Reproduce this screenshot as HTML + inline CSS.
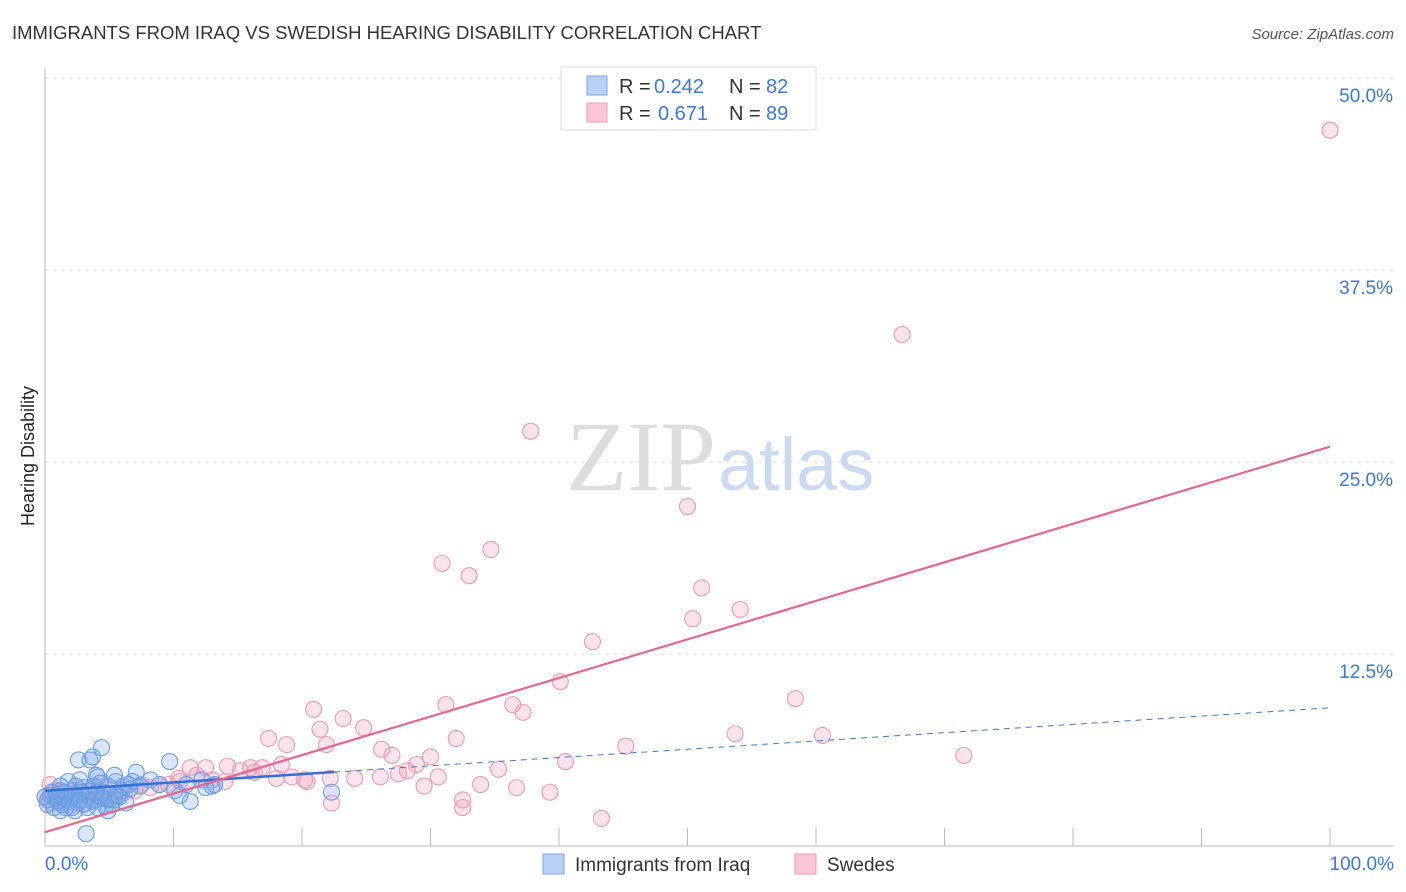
<!DOCTYPE html>
<html><head><meta charset="utf-8"><style>
html,body{margin:0;padding:0;background:#fff;width:1406px;height:892px;overflow:hidden;font-family:"Liberation Sans",sans-serif}
</style></head><body>
<svg id="chart" width="1406" height="892" xmlns="http://www.w3.org/2000/svg">
<text x="12" y="39" font-size="18.5" fill="#333">IMMIGRANTS FROM IRAQ VS SWEDISH HEARING DISABILITY CORRELATION CHART</text>
<text x="1394" y="39" font-size="15" fill="#555" font-style="italic" text-anchor="end">Source: ZipAtlas.com</text>
<text x="34" y="456" font-size="18" fill="#222" transform="rotate(-90 34 456)" text-anchor="middle">Hearing Disability</text>
<g id="grid"></g>
<g id="axes"></g>
<text x="716" y="490" font-size="100" fill="#ddd" text-anchor="end" font-family="Liberation Serif,serif">ZIP</text>
<text x="718" y="490" font-size="74" fill="#c9daf2">atlas</text>
<g id="pts"></g>
<g id="lines"></g>
<g>
<rect x="561" y="67" width="255" height="63" fill="#fff" stroke="#ddd"/>
<rect x="587" y="76" width="20" height="19" fill="#b9d1f4" stroke="#7aa6e6"/>
<rect x="587" y="103" width="20" height="19" fill="#fac6d6" stroke="#ee9cb6"/>
<g font-size="20" fill="#333">
<text x="619" y="93">R =</text><text x="654" y="93" fill="#3b78d8">0.242</text><text x="729" y="93">N =</text><text x="766" y="93" fill="#3b78d8">82</text></g>
<g font-size="20" fill="#333">
<text x="619" y="120">R =</text><text x="658" y="120" fill="#3b78d8">0.671</text><text x="729" y="120">N =</text><text x="766" y="120" fill="#3b78d8">89</text></g>
</g>
<g>
<rect x="543" y="854" width="21" height="20" fill="#b9d1f4" stroke="#7aa6e6"/>
<text x="575" y="871" font-size="19" fill="#333">Immigrants from Iraq</text>
<rect x="795" y="854" width="21" height="20" fill="#fac6d6" stroke="#ee9cb6"/>
<text x="827" y="871" font-size="19" fill="#333">Swedes</text>
</g>
</svg>
<script>
const yTicks=[12.5,25,37.5,50];
const yTickLabels=["12.5%","25.0%","37.5%","50.0%"];
const xTicks=[0,10,20,30,40,50,60,70,80,90,100];
const xEndLabels=["0.0%","100.0%"];
const pinkX=[100,66.7,37.8,50.0,34.7,30.9,33.0,51.1,54.1,50.4,42.6,40.1,58.4,31.2,36.4,20.9,37.2,23.2,24.8,21.4,17.4,32.0,18.8,21.9,53.7,60.5,45.2,26.2,27.0,71.5,30.0,40.5,28.9,35.3,28.2,27.5,30.6,26.1,24.1,22.2,20.2,19.2,18.0,20.4,15.2,14.2,16.0,12.5,11.3,11.8,10.4,9.6,8.9,8.2,7.5,6.2,5.1,3.9,2.7,1.6,0.8,0.4,0.2,1.2,2.1,3.3,4.3,5.4,7.0,33.9,36.7,39.3,32.5,32.5,22.3,43.3,29.5,13.0,14.0,16.9,18.4,10.5,16.3,0.5,1.9,3.1,0.0];
const pinkY=[46.6,33.3,27.0,22.1,19.3,18.4,17.6,16.8,15.4,14.8,13.3,10.7,9.6,9.2,9.2,8.9,8.7,8.3,7.7,7.6,7.0,7.0,6.6,6.6,7.3,7.2,6.5,6.3,5.9,5.9,5.8,5.5,5.3,5.0,4.9,4.7,4.5,4.5,4.4,4.4,4.3,4.5,4.4,4.2,4.9,5.2,5.1,5.1,5.1,4.6,4.4,4.0,4.0,3.8,4.0,3.5,3.8,3.8,3.6,3.5,3.6,4.0,3.0,3.0,3.1,3.3,3.3,3.3,3.6,4.0,3.8,3.5,3.0,2.5,2.8,1.8,3.9,4.3,4.2,5.1,5.3,4.2,4.8,2.8,2.6,2.8,3.2];
const blueX=[4.4,2.6,3.5,3.7,9.7,7.1,5.4,4.0,4.1,2.7,1.8,1.2,6.8,13.0,12.2,10.5,10.1,11.3,4.9,3.3,2.3,3.2,22.3,0.4,0.8,1.3,1.6,1.9,2.3,2.9,3.2,3.5,3.9,4.3,4.5,5.0,5.7,6.0,6.5,7.4,8.2,8.9,0.5,1.0,1.3,1.9,2.6,3.0,3.7,4.1,4.7,5.2,0.2,0,0.9,1.5,2.1,2.4,3.0,3.8,4.3,4.9,5.5,6.1,6.6,11.0,12.5,13.2,0.2,0.7,1.2,1.6,2.1,2.7,3.4,4.0,4.5,4.9,5.4,5.8,6.3,1.2];
const blueY=[6.4,5.6,5.6,5.8,5.5,4.8,4.6,4.6,4.5,4.3,4.2,3.9,4.2,3.9,4.3,3.3,3.6,2.9,2.3,2.5,2.3,0.8,3.5,3.3,3.1,3.2,3.0,3.1,3.3,3.5,3.2,3.0,3.0,3.2,3.5,3.0,3.3,3.6,4.0,3.9,4.3,4.0,3.5,2.9,2.7,2.9,2.8,2.7,2.9,2.5,2.6,2.7,3.0,3.2,3.3,3.5,3.6,3.9,3.8,3.9,4.1,3.9,4.2,3.9,3.7,4.0,3.8,4.0,2.7,2.5,2.3,2.5,2.5,3.0,3.6,3.5,3.1,3.1,3.0,3.2,2.8,3.6];
const pinkTrend=[0.9,26.0];
const blueTrend=[3.6,9.0];
const blueSolidEnd=22.5;
const NS="http://www.w3.org/2000/svg";
const X=v=>45+v*12.85, Y=v=>846-v*15.36;
function mk(tag,attrs,parent){const e=document.createElementNS(NS,tag);for(const k in attrs)e.setAttribute(k,attrs[k]);parent.appendChild(e);return e;}
const grid=document.getElementById('grid'),axes=document.getElementById('axes');
yTicks.forEach((t,i)=>{
 const l=mk('line',{x1:45,x2:1394,y1:Y(t),y2:Y(t),stroke:'#ddd','stroke-dasharray':'4,4'},grid);
 
 
 const tx=mk('text',{x:1393,y:Y(t)+24,'font-size':19,fill:'#3b78d8','text-anchor':'end'},axes);
 tx.textContent=yTickLabels[i];
 
 
});
const ya=mk('line',{x1:45,x2:45,y1:68,y2:846,stroke:'#bbb'},axes);


const xa=mk('line',{x1:45,x2:1394,y1:846,y2:846,stroke:'#bbb'},axes);


xTicks.forEach(t=>{
 const l=mk('line',{x1:X(t),x2:X(t),y1:828,y2:846,stroke:'#bbb'},axes);
 
 
});
[[0,'start',45],[100,'end',1394]].forEach((a,i)=>{
 const tx=mk('text',{x:a[2],y:870,'font-size':19,fill:'#3b78d8','text-anchor':a[1]},axes);
 tx.textContent=xEndLabels[i];
 
 
});
const pts=document.getElementById('pts');
pinkX.forEach((x,i)=>{
 const c=mk('circle',{cx:X(x),cy:Y(pinkY[i]),r:8,fill:'rgba(245,160,190,0.3)',stroke:'#eb9ab5','stroke-width':1.1},pts);
 
 
});
blueX.forEach((x,i)=>{
 const c=mk('circle',{cx:X(x),cy:Y(blueY[i]),r:8,fill:'rgba(120,165,235,0.28)',stroke:'#6a9ee2','stroke-width':1.1},pts);
 
 
});
const lines=document.getElementById('lines');
const bAt=x=>blueTrend[0]+(blueTrend[1]-blueTrend[0])*x/100;
const bd=mk('line',{x1:X(blueSolidEnd),y1:Y(bAt(blueSolidEnd)),x2:X(100),y2:Y(bAt(100)),stroke:'#3b78d8','stroke-width':1,'stroke-dasharray':'6,5'},lines);


const bs=mk('line',{x1:X(0),y1:Y(bAt(0)),x2:X(blueSolidEnd),y2:Y(bAt(blueSolidEnd)),stroke:'#3070d8','stroke-width':2.5},lines);


const pl=mk('line',{x1:X(0),y1:Y(pinkTrend[0]),x2:X(100),y2:Y(pinkTrend[1]),stroke:'#e8658f','stroke-width':2.2},lines);


</script>
</body></html>
